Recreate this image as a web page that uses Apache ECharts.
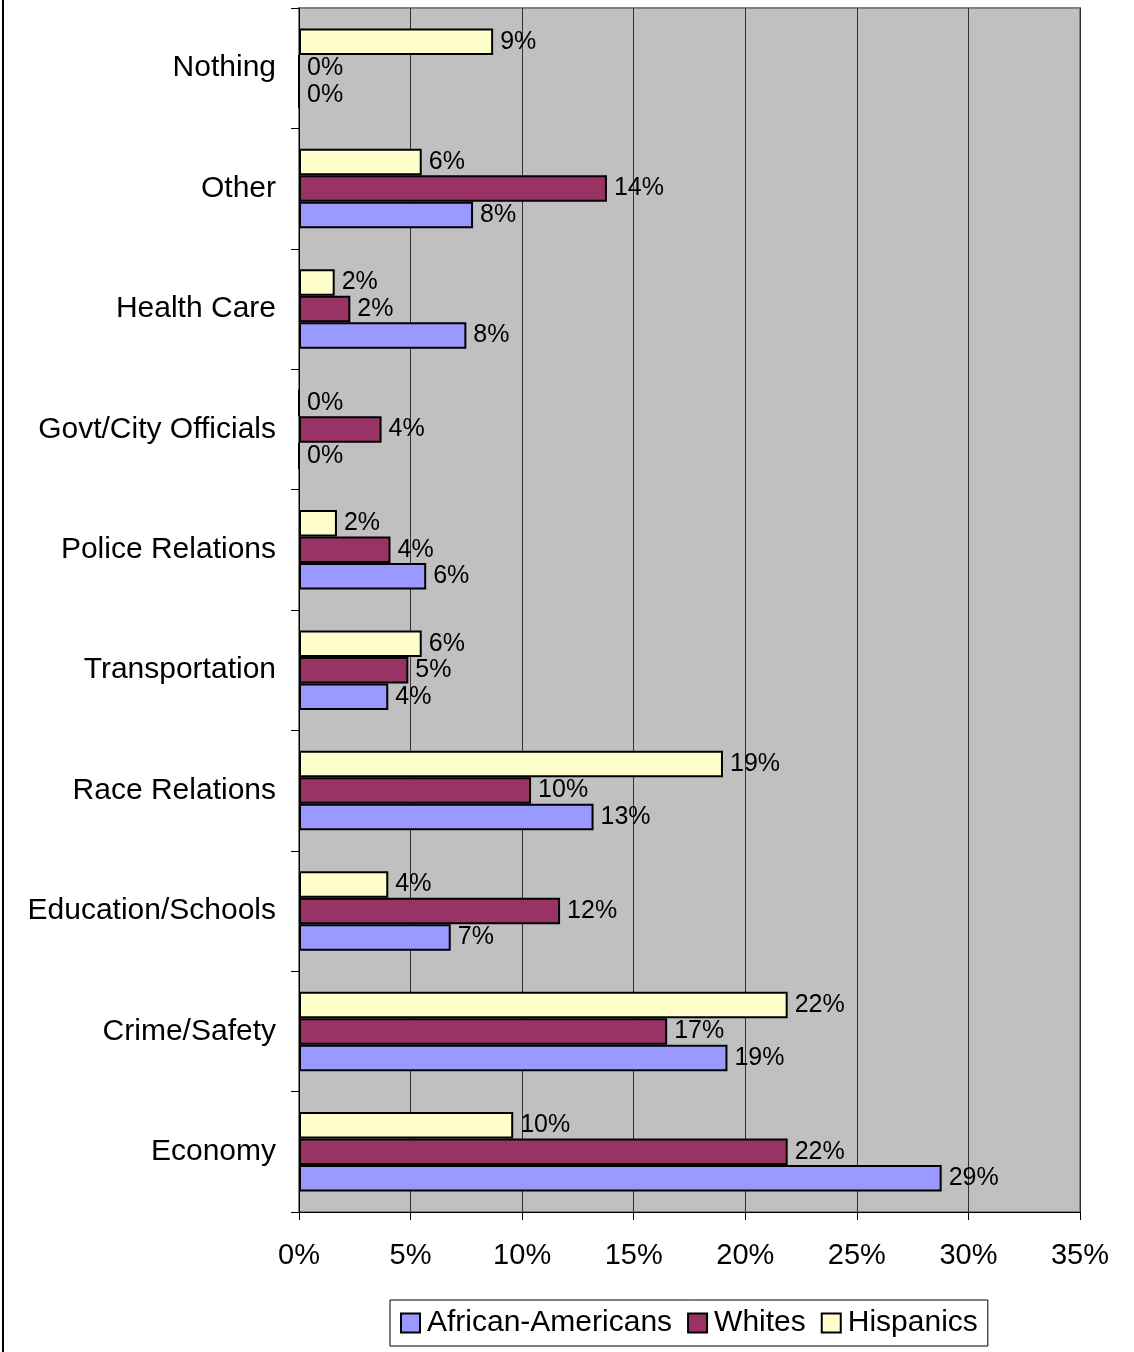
<!DOCTYPE html>
<html>
<head>
<meta charset="utf-8">
<title>Most Important Problem by Group</title>
<script src="https://cdn.jsdelivr.net/npm/echarts@6/dist/echarts.min.js"></script>
<style>
  html, body { margin: 0; padding: 0; background: #ffffff; }
  #chart { width: 1134px; height: 1352px; }
</style>
</head>
<body>
<div id="chart"></div>
<script>
// Categories, listed from the bottom of the axis upward
const categories = [
  'Economy', 'Crime/Safety', 'Education/Schools', 'Race Relations',
  'Transportation', 'Police Relations', 'Govt/City Officials',
  'Health Care', 'Other', 'Nothing'
];

// Share of respondents naming each problem (percent)
const africanAmericans = [28.8, 19.2, 6.8, 13.2, 4.0, 5.7, 0, 7.5, 7.8, 0];
const whites           = [21.9, 16.5, 11.7, 10.4, 4.9, 4.1, 3.7, 2.3, 13.8, 0];
const hispanics        = [9.6, 21.9, 4.0, 19.0, 5.5, 1.7, 0, 1.6, 5.5, 8.7];

const seriesNames = ['African-Americans', 'Whites', 'Hispanics'];
const seriesColors = ['#9999FF', '#993366', '#FFFFCC'];

const FONT = '"Liberation Sans", Arial, sans-serif';

function barSeries(name, data, color) {
  return {
    name: name,
    type: 'bar',
    data: data,
    barGap: '0%',
    barCategoryGap: '34%',
    itemStyle: { color: color, borderColor: '#000000', borderWidth: 2 },
    label: {
      show: true,
      position: 'right',
      distance: 7,
      color: '#000000',
      fontFamily: FONT,
      fontSize: 25,
      formatter: p => Math.round(p.value) + '%'
    },
    emphasis: { disabled: true }
  };
}

const chart = echarts.init(document.getElementById('chart'), null, { renderer: 'canvas' });

chart.setOption({
  animation: false,
  backgroundColor: '#ffffff',
  textStyle: { fontFamily: FONT },
  grid: {
    left: 299, right: 54, top: 8, bottom: 140,
    show: true,
    backgroundColor: '#C0C0C0',
    borderColor: '#808080',
    borderWidth: 2
  },
  legend: {
    data: seriesNames,
    left: 390,
    top: 1300,
    orient: 'horizontal',
    icon: 'rect',
    itemWidth: 19,
    itemHeight: 19,
    itemGap: 15,
    padding: [8, 10, 8, 10],
    borderColor: '#000000',
    borderWidth: 1,
    backgroundColor: '#ffffff',
    textStyle: { color: '#000000', fontFamily: FONT, fontSize: 30, padding: [0, 0, 0, 2] },
    itemStyle: { borderColor: '#000000', borderWidth: 2 },
    selectedMode: false
  },
  xAxis: {
    type: 'value',
    min: 0,
    max: 35,
    interval: 5,
    axisLine: { show: true, lineStyle: { color: '#000000', width: 1 } },
    axisTick: { show: true, length: 8, lineStyle: { color: '#000000' } },
    axisLabel: {
      formatter: '{value}%',
      color: '#000000',
      fontFamily: FONT,
      fontSize: 29,
      margin: 29
    },
    splitLine: { show: true, lineStyle: { color: '#303030', width: 1 } }
  },
  yAxis: {
    type: 'category',
    data: categories,
    axisLine: { show: true, lineStyle: { color: '#000000', width: 1 } },
    axisTick: { show: true, length: 8, lineStyle: { color: '#000000' } },
    axisLabel: {
      color: '#000000',
      fontFamily: FONT,
      fontSize: 30,
      margin: 23
    },
    splitLine: { show: false }
  },
  graphic: [{
    type: 'line',
    shape: { x1: 3, y1: 0, x2: 3, y2: 1352 },
    style: { stroke: '#000000', lineWidth: 2 },
    silent: true
  }],
  // Hispanics is listed first so that it sits at the top of each group
  series: [
    barSeries(seriesNames[2], hispanics, seriesColors[2]),
    barSeries(seriesNames[1], whites, seriesColors[1]),
    barSeries(seriesNames[0], africanAmericans, seriesColors[0])
  ]
});
</script>
</body>
</html>
